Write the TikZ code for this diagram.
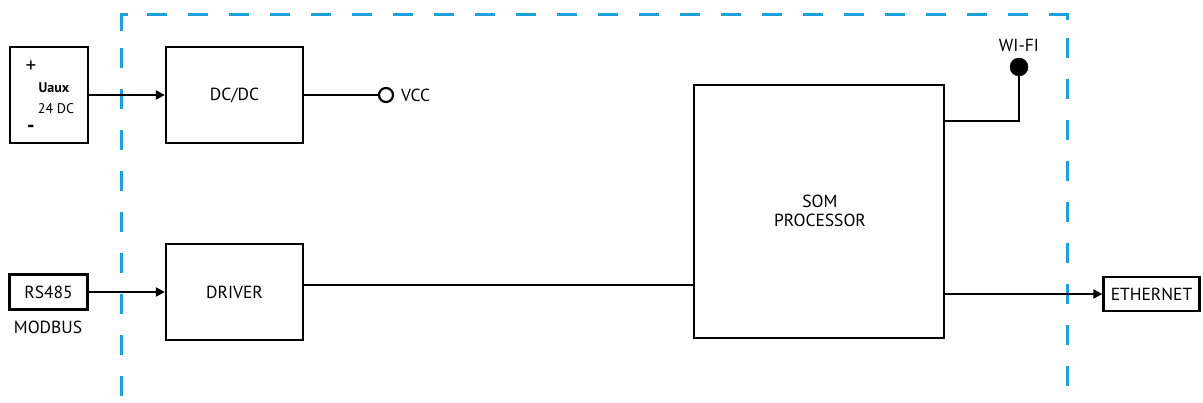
\documentclass[tikz,border=0pt]{standalone}
\usepackage{fontspec}
\setmainfont{PT Sans}
\usetikzlibrary{arrows.meta}
\definecolor{dashblue}{HTML}{1DA1DE}
\begin{document}
\begin{tikzpicture}[x=1pt,y=-1pt,
  blk/.style={draw, line width=2.3pt, inner sep=0pt, font=\fontsize{17.5}{20}\selectfont},
  wire/.style={line width=2.2pt},
  arr/.style={wire, -{Triangle[length=9pt,width=9pt]}},
  lbl/.style={inner sep=0pt, font=\fontsize{17.5}{20}\selectfont},
  small/.style={inner sep=0pt, font=\fontsize{14}{16}\selectfont},
  boundary/.style={dashblue, line width=3pt, dash pattern=on 20pt off 21pt},
  corner/.style={dashblue, line width=3pt}]
\useasboundingbox (0,0) rectangle (1203,402);
% boundary
\draw[corner] (121,31) -- (121,14) -- (128,14);
\draw[boundary, dash phase=22pt] (128,14) -- (1060,14);
\draw[boundary, dash phase=24pt] (121,31) -- (121,402);
\draw[corner] (1060,14) -- (1067,14) -- (1067,20);
\draw[boundary, dash phase=23pt] (1067,20) -- (1067,402);
% blocks
\node[blk, minimum width=78pt, minimum height=96pt] (uaux) at (49,95) {};
\node[lbl, font=\fontsize{21}{22}\selectfont] (plus) at (31,67) {+};
\node[small, font=\fontsize{14}{16}\selectfont\bfseries] (ulab) at (54,88) {Uaux};
\node[small] (dclab) at (56,109) {24 DC};
\node[lbl, font=\fontsize{21}{22}\selectfont\bfseries] (minus) at (31,129) {-};
\node[blk, minimum width=137pt, minimum height=96pt] (dcdc) at (234.5,95) {DC/DC};
\node[draw, circle, line width=2.2pt, fill=white, minimum size=14pt, inner sep=0pt] (vcc) at (386,95) {};
\node[lbl, anchor=west] (vcclab) at (401,95) {VCC};
\node[blk, minimum width=78pt, minimum height=35pt] (rs) at (48.5,292) {RS485};
\node[lbl] (modbus) at (48,327) {MODBUS};
\node[blk, minimum width=137pt, minimum height=96pt] (drv) at (234.5,292) {DRIVER};
\node[blk, minimum width=250pt, minimum height=253pt] (som) at (819,211.5) {};
\node[lbl, align=center, font=\fontsize{17.5}{19}\selectfont] (somlab) at (820,211) {SOM\\PROCESSOR};
\node[draw, circle, fill=black, minimum size=18pt, inner sep=0pt] (wifi) at (1019,67) {};
\node[lbl] (wifilab) at (1019,45) {WI-FI};
\node[blk, minimum width=96pt, minimum height=34pt] (eth) at (1151.5,294) {ETHERNET};
% connectors
\draw[arr] (uaux.east) -- (dcdc.west);
\draw[wire] (dcdc.east) -- (vcc.west);
\draw[arr] (rs.east) -- (drv.west);
\draw[wire] (drv.east |- 0,285) -- (som.west |- 0,285);
\draw[wire] (som.east |- 0,121) -| (wifi.south);
\draw[arr] (som.east |- 0,294) -- (eth.west);
\end{tikzpicture}
\end{document}
